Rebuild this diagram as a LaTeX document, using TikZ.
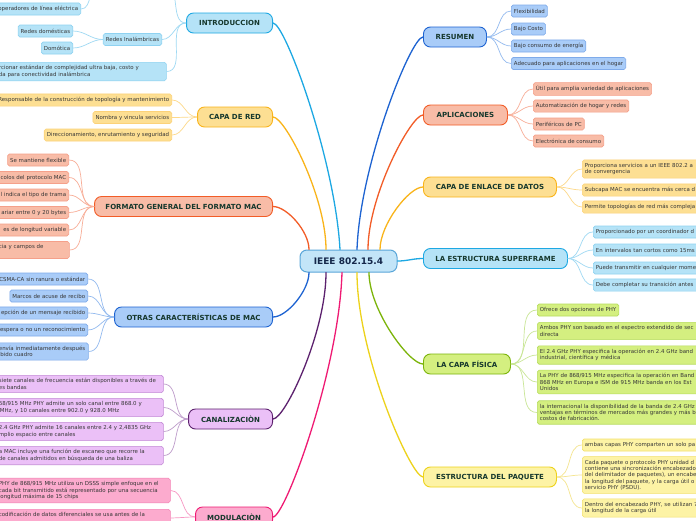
\documentclass[tikz,border=0pt]{standalone}
\usepackage{fontspec}
\setmainfont{DejaVu Sans}

% colores de cada rama: A linea gruesa, F relleno, B borde de hoja, L linea fina
\definecolor{cianA}{HTML}{1DA8E3}\definecolor{cianF}{HTML}{B5E3F7}\definecolor{cianB}{HTML}{8ED2F1}\definecolor{cianL}{HTML}{9FD9F3}
\definecolor{amarA}{HTML}{F9B41A}\definecolor{amarF}{HTML}{FDDF93}\definecolor{amarB}{HTML}{FCD278}\definecolor{amarL}{HTML}{FDD98A}
\definecolor{salmA}{HTML}{F25C27}\definecolor{salmF}{HTML}{F8BCA7}\definecolor{salmB}{HTML}{F5A08A}\definecolor{salmL}{HTML}{F8AE98}
\definecolor{azulA}{HTML}{1D63D1}\definecolor{azulF}{HTML}{A9CCF8}\definecolor{azulB}{HTML}{7FABEA}\definecolor{azulL}{HTML}{93BAEF}
\definecolor{moraA}{HTML}{5C216E}\definecolor{moraF}{HTML}{EBC0F7}\definecolor{moraB}{HTML}{C38AD6}\definecolor{moraL}{HTML}{BE9CCB}
\definecolor{rosaA}{HTML}{EF1A73}\definecolor{rosaF}{HTML}{FCABCE}\definecolor{rosaB}{HTML}{F584B6}\definecolor{rosaL}{HTML}{F797C3}
\definecolor{limaA}{HTML}{7CB40A}\definecolor{limaF}{HTML}{D4EF80}\definecolor{limaB}{HTML}{B6DC5C}\definecolor{limaL}{HTML}{C9E696}
\definecolor{oroA}{HTML}{EDD21B}\definecolor{oroF}{HTML}{FDF3A5}\definecolor{oroB}{HTML}{F3E06A}\definecolor{oroL}{HTML}{F5E590}
\definecolor{raizF}{HTML}{C3E5F8}\definecolor{raizB}{HTML}{5AA6D9}\definecolor{raizT}{HTML}{14274A}
\definecolor{temaT}{HTML}{16382D}\definecolor{hojaT}{HTML}{363636}

\tikzset{
  raiz/.style={draw=raizB, fill=raizF, line width=1pt, rounded corners=7pt, minimum height=22pt,
    font=\fontsize{9}{10}\selectfont\bfseries, text=raizT},
  tema/.style={draw=#1A, fill=#1F, line width=0.9pt, rounded corners=7pt, minimum height=20pt,
    inner xsep=4pt, font=\fontsize{7}{8}\selectfont\bfseries, text=temaT},
  hoja/.style={draw=#1B, fill=#1F, line width=0.6pt, rounded corners=1.8pt, minimum height=12pt,
    inner xsep=2.6pt, inner ysep=3.3pt, align=left, font=\fontsize{5.45}{6.3}\selectfont, text=hojaT},
  rama/.style={draw=#1A, line width=1.3pt, line cap=round},
  ramita/.style={draw=#1L, line width=0.7pt},
  cortada/.style={anchor=east, text width=220pt, align=right},
}

\begin{document}
\begin{tikzpicture}[x=1pt,y=-1pt]
  \useasboundingbox (0,0) rectangle (696,520);
  \clip (0,0) rectangle (696,520);
  \fill[white] (0,0) rectangle (696,520);

  % Nodo central
  \node[raiz, minimum width=97pt] (ieee) at (348.5,261) {IEEE 802.15.4};

  % Temas de la izquierda
  \node[tema=cian, anchor=east, minimum width=86pt] (intro) at (273,23) {INTRODUCCION};
  \node[tema=amar, anchor=east, minimum width=75pt] (red) at (273,117) {CAPA DE RED};
  \node[tema=salm, anchor=east, minimum width=178pt] (formato) at (273,206.5) {FORMATO GENERAL DEL FORMATO MAC};
  \node[tema=azul, anchor=east, minimum width=158pt] (otras) at (273,317) {OTRAS CARACTERÍSTICAS DE MAC};
  \node[tema=mora, anchor=east, minimum width=84pt] (canal) at (273,419) {CANALIZACIÒN};
  \node[tema=rosa, anchor=east, minimum width=77pt] (modul) at (273,517) {MODULACIÒN};

  % Temas de la derecha
  \node[tema=azul, anchor=west, minimum width=63pt] (resumen) at (423,37) {RESUMEN};
  \node[tema=salm, anchor=west, minimum width=84pt] (aplic) at (423,115) {APLICACIONES};
  \node[tema=amar, anchor=west, minimum width=133pt] (enlace) at (423,187) {CAPA DE ENLACE DE DATOS};
  \node[tema=cian, anchor=west, minimum width=144pt] (super) at (423,258.5) {LA ESTRUCTURA SUPERFRAME};
  \node[tema=lima, anchor=west, minimum width=87pt] (fisica) at (423,364) {LA CAPA FÍSICA};
  \node[tema=oro, anchor=west, minimum width=133pt] (paquete) at (423,477) {ESTRUCTURA DEL PAQUETE};

  % Ramas gruesas desde el nodo central
  \draw[rama=cian] ([xshift=-8.5pt]ieee.north) .. controls +(-5,-90) and +(12,0) .. (intro.east);
  \draw[rama=amar] ([xshift=-22.5pt]ieee.north) .. controls +(0,-53) and +(12,0) .. (red.east);
  \draw[rama=salm] ([xshift=-39.5pt]ieee.north) .. controls +(0,-18) and +(14,0) .. (formato.east);
  \draw[rama=azul] ([xshift=-39.5pt]ieee.south) .. controls +(0,18) and +(14,0) .. (otras.east);
  \draw[rama=mora] ([xshift=-22.5pt]ieee.south) .. controls +(0,60) and +(12,0) .. (canal.east);
  \draw[rama=rosa] ([xshift=-6.5pt]ieee.south) .. controls +(-3,98) and +(12,0) .. (modul.east);
  \draw[rama=azul] ([xshift=8.5pt]ieee.north) .. controls +(3,-85) and +(-12,0) .. (resumen.west);
  \draw[rama=salm] ([xshift=19.5pt]ieee.north) .. controls +(0,-54) and +(-12,0) .. (aplic.west);
  \draw[rama=amar] ([xshift=31.5pt]ieee.north) .. controls +(0,-25) and +(-14,0) .. (enlace.west);
  \draw[rama=cian] (ieee.east) to[out=0,in=180] (super.west);
  \draw[rama=lima] ([xshift=20.5pt]ieee.south) .. controls +(0,37) and +(-14,0) .. (fisica.west);
  \draw[rama=oro] ([xshift=8.5pt]ieee.south) .. controls +(0,82) and +(-12,0) .. (paquete.west);

  % INTRODUCCION
  \coordinate (cabE) at (165,-14);
  \coordinate (cabW) at (99,-14);
  \node[hoja=cian, cortada] (oper) at (81,9) {operadores de línea eléctrica};
  \node[hoja=cian, anchor=east] (inal) at (162,39.5) {Redes Inalámbricas};
  \node[hoja=cian, anchor=east] (domes) at (73,31) {Redes domésticas};
  \node[hoja=cian, anchor=east] (domot) at (73,48) {Domótica};
  \node[hoja=cian, anchor=west, text width=164.8pt] (propo) at (-4,71.5) {rcionar estándar de complejidad ultra baja, costo y\\da para conectividad inalámbrica};
  \foreach \h in {cabE,inal,propo} \draw[ramita=cian] (intro.west) to[out=180,in=0] (\h);
  \draw[ramita=cian] (inal.west) to[out=180,in=0] (domes.east);
  \draw[ramita=cian] (inal.west) to[out=180,in=0] (domot.east);
  \draw[ramita=cian] (oper.east) to[out=0,in=180] (cabW);

  % CAPA DE RED
  \node[hoja=amar, cortada] (resp) at (172,100) {Responsable de la construcción de topología y mantenimiento};
  \node[hoja=amar, anchor=east] (nombra) at (172,117.5) {Nombra y vincula servicios};
  \node[hoja=amar, anchor=east] (direc) at (172,135) {Direccionamiento, enrutamiento y seguridad};
  \foreach \h in {resp,nombra,direc} \draw[ramita=amar] (red.west) to[out=180,in=0] (\h.east);

  % FORMATO GENERAL DEL FORMATO MAC
  \node[hoja=salm, anchor=east] (flex) at (69,160) {Se mantiene flexible};
  \node[hoja=salm, cortada] (proto) at (69,177.5) {colos del protocolo MAC};
  \node[hoja=salm, cortada] (trama) at (69,195) {l indica el tipo de trama};
  \node[hoja=salm, cortada] (bytes) at (69,212.5) {ariar entre 0 y 20 bytes};
  \node[hoja=salm, cortada] (longv) at (69,230) {es de longitud variable};
  \node[hoja=salm, anchor=west, text width=67.8pt] (campos) at (-4,250) {\mbox{cia y campos de}\\~};
  \foreach \h in {flex,proto,trama,bytes,longv,campos} \draw[ramita=salm] (formato.west) to[out=180,in=0] (\h.east);

  % OTRAS CARACTERISTICAS DE MAC
  \node[hoja=azul, cortada] (csma) at (88,279) {CSMA-CA sin ranura o estándar};
  \node[hoja=azul, anchor=east] (acuse) at (88,296) {Marcos de acuse de recibo};
  \node[hoja=azul, cortada] (recep) at (88,313) {epción de un mensaje recibido};
  \node[hoja=azul, cortada] (espera) at (88,330) {espera o no un reconocimiento};
  \node[hoja=azul, anchor=west, text width=86.8pt] (envia) at (-4,351.5) {\mbox{envía inmediatamente después}\\ibido cuadro};
  \foreach \h in {csma,acuse,recep,espera,envia} \draw[ramita=azul] (otras.west) to[out=180,in=0] (\h.east);

  % CANALIZACION
  \node[hoja=mora, anchor=west, text width=161.8pt] (siete) at (-4,384) {\mbox{siete canales de frecuencia están disponibles a través de}\\es bandas};
  \node[hoja=mora, anchor=west, text width=161.8pt] (uncanal) at (-4,407.5) {\mbox{68/915 MHz PHY admite un solo canal entre 868.0 y}\\\,MHz, y 10 canales entre 902.0 y 928.0 MHz};
  \node[hoja=mora, anchor=west, text width=161.8pt] (dieci) at (-4,431.5) {\mbox{2.4 GHz PHY admite 16 canales entre 2.4 y 2,4835 GHz}\\mplio espacio entre canales};
  \node[hoja=mora, anchor=west, text width=161.8pt] (escaneo) at (-4,455.5) {\mbox{a MAC incluye una función de escaneo que recorre la}\\\mbox{de canales admitidos en búsqueda de una baliza}};
  \foreach \h in {siete,uncanal,dieci,escaneo} \draw[ramita=mora] (canal.west) to[out=180,in=0] (\h.east);

  % MODULACION
  \node[hoja=rosa, anchor=west, text width=168.8pt] (dsss) at (-4,490.5) {\mbox{PHY de 868/915 MHz utiliza un DSSS simple enfoque en el}\\\mbox{cada bit transmitido está representado por una secuencia}\\longitud máxima de 15 chips};
  \node[hoja=rosa, anchor=north west, text width=168.8pt] (difer) at (-4,509) {\mbox{codificación de datos diferenciales se usa antes de la}\\~};
  \foreach \h in {dsss,difer} \draw[ramita=rosa] (modul.west) to[out=180,in=0] (\h.east);

  % RESUMEN
  \node[hoja=azul, anchor=west] (flexi) at (511,11) {Flexibilidad};
  \node[hoja=azul, anchor=west] (costo) at (511,29) {Bajo Costo};
  \node[hoja=azul, anchor=west] (energia) at (511,46) {Bajo consumo de energía};
  \node[hoja=azul, anchor=west] (hogar) at (511,63.5) {Adecuado para aplicaciones en el hogar};
  \foreach \h in {flexi,costo,energia,hogar} \draw[ramita=azul] (resumen.east) to[out=0,in=180] (\h.west);

  % APLICACIONES
  \node[hoja=salm, anchor=west] (util) at (533,89) {Útil para amplia variedad de aplicaciones};
  \node[hoja=salm, anchor=west] (autom) at (533,106) {Automatización de hogar y redes};
  \node[hoja=salm, anchor=west] (perif) at (533,124) {Periféricos de PC};
  \node[hoja=salm, anchor=west] (consumo) at (533,141) {Electrónica de consumo};
  \foreach \h in {util,autom,perif,consumo} \draw[ramita=salm] (aplic.east) to[out=0,in=180] (\h.west);

  % CAPA DE ENLACE DE DATOS
  \node[hoja=amar, anchor=west, text width=200pt] (servi) at (582,169) {Proporciona servicios a un IEEE 802.2 a\\de convergencia};
  \node[hoja=amar, anchor=west, text width=200pt] (subcapa) at (582,190) {Subcapa MAC se encuentra más cerca d};
  \node[hoja=amar, anchor=west, text width=200pt] (topol) at (582,207) {Permite topologías de red más compleja};
  \foreach \h in {servi,subcapa,topol} \draw[ramita=amar] (enlace.east) to[out=0,in=180] (\h.west);

  % LA ESTRUCTURA SUPERFRAME
  \node[hoja=cian, anchor=west, text width=200pt] (coord) at (593,232) {Proporcionado por un coordinador d};
  \node[hoja=cian, anchor=west, text width=200pt] (interv) at (593,250) {En intervalos tan cortos como 15ms};
  \node[hoja=cian, anchor=west, text width=200pt] (transm) at (593,268) {Puede transmitir en cualquier mome};
  \node[hoja=cian, anchor=west, text width=200pt] (trans) at (593,285) {Debe completar su transición antes};
  \foreach \h in {coord,interv,transm,trans} \draw[ramita=cian] (super.east) to[out=0,in=180] (\h.west);

  % LA CAPA FISICA
  \node[hoja=lima, anchor=west] (dosop) at (537,310) {Ofrece dos opciones de PHY};
  \node[hoja=lima, anchor=west, text width=200pt] (ambos) at (537,331) {Ambos PHY son basado en el espectro extendido de sec\\directa};
  \node[hoja=lima, anchor=west, text width=200pt] (ghz) at (537,355) {El 2.4 GHz PHY especifica la operación en 2.4 GHz band\\industrial, científica y médica};
  \node[hoja=lima, anchor=west, text width=200pt] (mhz) at (537,382) {La PHY de 868/915 MHz especifica la operación en Band\\868 MHz en Europa e ISM de 915 MHz banda en los Est\\Unidos};
  \node[hoja=lima, anchor=west, text width=200pt] (intern) at (537,412.5) {la internacional la disponibilidad de la banda de 2.4 GHz\\ventajas en términos de mercados más grandes y más b\\costos de fabricación.};
  \foreach \h in {dosop,ambos,ghz,mhz,intern} \draw[ramita=lima] (fisica.east) to[out=0,in=180] (\h.west);

  % ESTRUCTURA DEL PAQUETE
  \node[hoja=oro, anchor=west, text width=200pt] (ambas) at (582,445) {ambas capas PHY comparten un solo pa};
  \node[hoja=oro, anchor=west, text width=200pt] (cada) at (582,475) {Cada paquete o protocolo PHY unidad d\\contiene una sincronización encabezado\\del delimitador de paquetes), un encabe\\la longitud del paquete, y la carga útil o\\servicio PHY (PSDU).};
  \node[hoja=oro, anchor=west, text width=200pt] (dentro) at (582,508) {Dentro del encabezado PHY, se utilizan 7\\la longitud de la carga útil};
  \foreach \h in {ambas,cada,dentro} \draw[ramita=oro] (paquete.east) to[out=0,in=180] (\h.west);
\end{tikzpicture}
\end{document}
